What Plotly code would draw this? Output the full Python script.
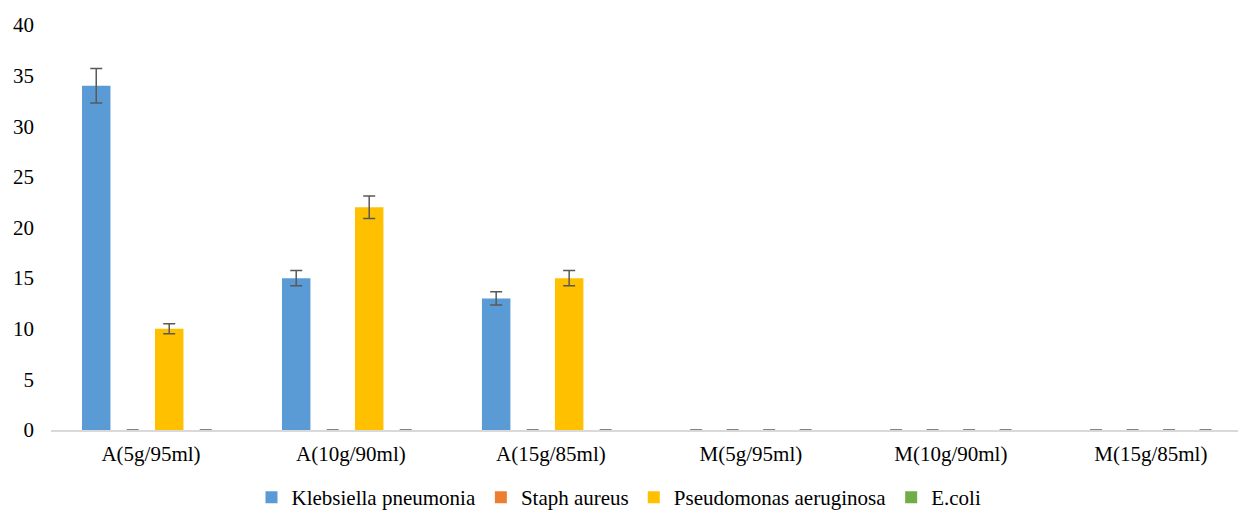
import plotly.graph_objects as go

categories = ["A(5g/95ml)", "A(10g/90ml)", "A(15g/85ml)", "M(5g/95ml)", "M(10g/90ml)", "M(15g/85ml)"]
series_names = ["Klebsiella pneumonia", "Staph aureus", "Pseudomonas aeruginosa", "E.coli"]
klebsiella = [34, 15, 13, 0, 0, 0]
staph = [0, 0, 0, 0, 0, 0]
pseudomonas = [10, 22, 15, 0, 0, 0]
ecoli = [0, 0, 0, 0, 0, 0]
klebsiella_err = [1.7, 0.75, 0.65, 0, 0, 0]
staph_err = [0, 0, 0, 0, 0, 0]
pseudomonas_err = [0.5, 1.1, 0.75, 0, 0, 0]
ecoli_err = [0, 0, 0, 0, 0, 0]
y_ticks = [0, 5, 10, 15, 20, 25, 30, 35, 40]

colors = ["#5B9BD5", "#ED7D31", "#FFC000", "#70AD47"]
values = [klebsiella, staph, pseudomonas, ecoli]
errors = [klebsiella_err, staph_err, pseudomonas_err, ecoli_err]

fig = go.Figure()
for name, vals, errs, col in zip(series_names, values, errors, colors):
    fig.add_trace(go.Bar(
        name=name, x=categories, y=vals,
        marker=dict(color=col, line=dict(width=0)),
        error_y=dict(type="data", array=errs, visible=True,
                     color="#595959", thickness=1.5, width=6),
    ))

font = dict(family="Liberation Serif", size=21, color="#000000")
fig.update_layout(
    barmode="group",
    bargap=0.27,
    bargroupgap=0.22,
    width=1238, height=513,
    margin=dict(l=51, r=0, t=25, b=83, autoexpand=False),
    plot_bgcolor="white", paper_bgcolor="white",
    font=font,
    showlegend=True,
    legend=dict(orientation="h", x=0.5, xanchor="center", xref="container",
                y=0.03, yanchor="middle", yref="container",
                font=font, itemwidth=30, traceorder="normal", tracegroupgap=0),
    xaxis=dict(showline=True, linecolor="#d9d9d9", linewidth=1.5, ticks="",
               range=[-0.5, 5.436],
               showgrid=False, tickfont=font, automargin=False, ticklabelstandoff=4),
    yaxis=dict(range=[0, 40], tickvals=y_ticks, showgrid=False, zeroline=False,
               showline=False, ticks="", tickfont=font, ticklabelstandoff=16,
               automargin=False),
)

fig.write_html("out.html", config={"displayModeBar": False},
               post_script="document.body.style.margin='0';document.body.style.overflow='hidden';")
